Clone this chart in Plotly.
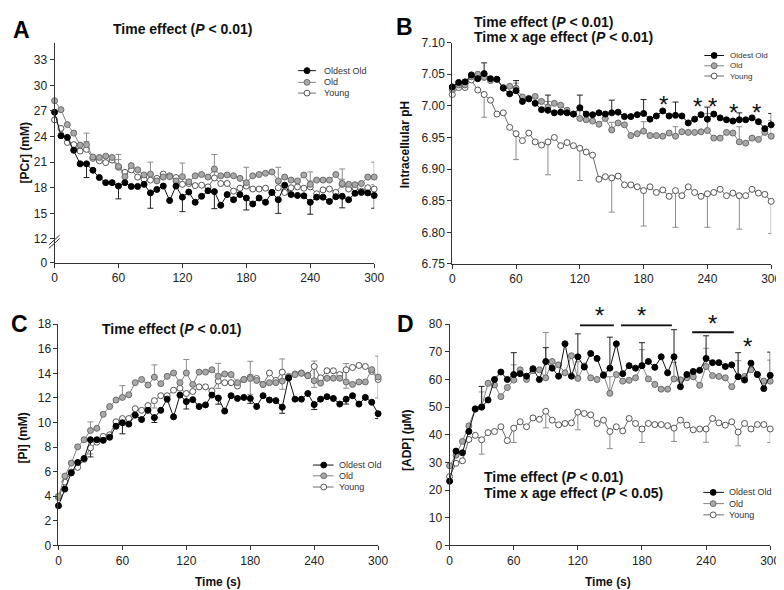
import plotly.graph_objects as go

W, H = 784, 590
FONT = "Liberation Sans, Arial, sans-serif"

time_s = list(range(0, 301, 6))
err_idx = slice(5, None, 5)          # error bars every 30 s
x_ticks = [0, 60, 120, 180, 240, 300]
series_names = ["Oldest Old", "Old", "Young"]

# ---------------- Panel A: [PCr] (mM) ----------------
pcr_oldest = [26.85, 24.1, 23.9, 22.4, 20.8, 20.8, 20.05, 19.2, 18.6, 18.6,
              18.2, 18.6, 18.15, 18.15, 18.4, 17.4, 17.8, 18.2, 16.5, 18.2,
              16.9, 17.5, 16.3, 17.0, 17.65, 17.55, 15.95, 17.2, 16.6, 17.2,
              16.8, 16.1, 16.8, 16.3, 17.45, 16.6, 18.3, 17.2, 17.1, 17.05,
              16.3, 16.9, 16.9, 16.4, 16.95, 17.0, 16.6, 17.35, 17.45, 17.4, 17.1]
pcr_old = [28.2, 27.15, 25.4, 24.4, 23.0, 23.05, 21.6, 21.55, 21.7, 21.55,
           20.5, 19.3, 20.6, 20.1, 19.5, 19.6, 18.8, 19.25, 19.3, 18.8,
           19.3, 18.7, 19.4, 19.55, 19.25, 20.2, 19.4, 19.5, 19.4, 19.1,
           18.6, 19.4, 19.55, 19.7, 19.85, 18.8, 19.25, 18.9, 18.8, 19.5,
           18.4, 18.9, 18.9, 18.9, 19.55, 18.5, 18.4, 18.35, 18.5, 19.25, 19.25]
pcr_young = [25.95, 24.95, 23.3, 23.05, 22.3, 22.5, 21.45, 21.15, 20.95, 21.25,
             20.4, 19.8, 20.1, 19.25, 19.0, 18.9, 19.1, 19.6, 19.4, 19.2,
             18.4, 18.5, 18.25, 18.3, 18.1, 19.15, 18.5, 18.5, 17.6, 17.95,
             18.2, 17.85, 17.85, 17.95, 17.45, 18.0, 17.45, 18.0, 18.1, 17.95,
             18.1, 17.3, 17.75, 17.85, 17.45, 18.4, 17.85, 18.0, 17.6, 18.0, 17.85]
pcr_err_oldest_minus = [1.6, 1.5, 1.8, 1.7, 2.0, 1.4, 1.6, 1.4, 1.35, 1.5]
pcr_err_old_plus = [1.35, 1.4, 1.4, 1.6, 1.7, 1.8, 1.6, 1.45, 1.7, 1.75]
pcr_err_young_plus = [0.9, 0.9, 0.6, 0.7, 0.7, 0.6, 0.6, 0.7, 0.6, 0.5]
pcr_tickvals = [9.19, 12, 15, 18, 21, 24, 27, 30, 33]
pcr_ticktext = ["0", "12", "15", "18", "21", "24", "27", "30", "33"]

# ---------------- Panel B: intracellular pH ----------------
ph_oldest = [7.030, 7.037, 7.038, 7.049, 7.043, 7.051, 7.043, 7.042, 7.028, 7.019,
             7.024, 7.007, 7.011, 7.004, 6.994, 6.993, 6.989, 6.990, 6.989, 6.987,
             6.997, 6.987, 6.986, 6.989, 6.987, 6.989, 6.990, 6.983, 6.983, 6.986,
             6.988, 6.979, 6.984, 6.992, 6.984, 6.985, 6.984, 6.973, 6.979, 6.986,
             6.979, 6.987, 6.981, 6.978, 6.976, 6.978, 6.978, 6.981, 6.975, 6.964, 6.970]
ph_old = [7.026, 7.033, 7.033, 7.046, 7.050, 7.045, 7.040, 7.042, 7.029, 7.031,
          7.028, 7.014, 7.012, 7.015, 7.007, 6.998, 7.004, 7.001, 6.993, 6.987,
          6.980, 6.978, 6.976, 6.971, 6.980, 6.962, 6.973, 6.970, 6.953, 6.956,
          6.960, 6.953, 6.953, 6.952, 6.957, 6.952, 6.959, 6.958, 6.958, 6.959,
          6.961, 6.949, 6.949, 6.958, 6.957, 6.943, 6.941, 6.949, 6.947, 6.958, 6.952]
ph_young = [7.018, 7.029, 7.029, 7.041, 7.025, 7.018, 7.009, 6.987, 6.989, 6.966,
            6.956, 6.945, 6.957, 6.943, 6.938, 6.943, 6.950, 6.937, 6.942, 6.937,
            6.933, 6.927, 6.922, 6.884, 6.888, 6.886, 6.889, 6.875, 6.875, 6.872,
            6.866, 6.872, 6.863, 6.867, 6.857, 6.866, 6.858, 6.872, 6.863, 6.857,
            6.861, 6.863, 6.868, 6.858, 6.862, 6.858, 6.858, 6.868, 6.862, 6.860, 6.849]
ph_err_oldest_plus = [0.017, 0.016, 0.024, 0.020, 0.020, 0.022, 0.021, 0.019, 0.011, 0.018]
ph_err_old_plus = [0.005, 0.008, 0.009, 0.012, 0.012, 0.015, 0.015, 0.027, 0.024, 0.025]
ph_err_young_minus = [0.036, 0.041, 0.052, 0.051, 0.054, 0.056, 0.058, 0.053, 0.053, 0.051]
ph_tickvals = [6.75, 6.80, 6.85, 6.90, 6.95, 7.00, 7.05, 7.10]
ph_ticktext = ["6.75", "6.80", "6.85", "6.90", "6.95", "7.00", "7.05", "7.10"]
ph_star_t = [199, 231, 245, 265, 286]
ph_star_y = [7.011, 7.009, 7.009, 6.999, 6.999]

# ---------------- Panel C: [Pi] (mM) ----------------
pi_oldest = [3.23, 4.58, 5.9, 6.75, 7.07, 8.6, 8.6, 8.55, 8.8, 9.7,
             9.98, 9.87, 10.6, 10.24, 10.99, 10.4, 10.99, 11.9, 10.46, 12.23,
             11.7, 11.86, 11.3, 11.43, 12.23, 11.99, 10.93, 12.18, 11.96, 12.04,
             11.96, 11.3, 12.18, 11.83, 11.78, 11.25, 13.63, 11.9, 11.9, 12.36,
             11.46, 11.9, 12.1, 11.96, 11.5, 11.9, 12.18, 11.5, 12.04, 11.65, 10.72]
pi_old = [4.0, 5.64, 6.7, 8.02, 8.6, 9.35, 9.53, 10.67, 11.3, 11.83,
          12.04, 12.26, 13.24, 13.5, 13.05, 13.69, 13.16, 13.76, 14.03, 13.24,
          14.03, 13.1, 14.1, 14.1, 14.29, 13.76, 13.95, 13.9, 13.24, 13.5,
          13.58, 13.42, 13.1, 13.24, 13.24, 13.37, 13.76, 13.9, 14.0, 13.8,
          13.4, 13.2, 13.6, 13.6, 13.6, 13.3, 13.1, 13.3, 13.3, 14.3, 13.7]
pi_young = [3.9, 5.16, 5.96, 6.35, 7.0, 7.94, 8.4, 8.87, 9.0, 10.06,
            10.32, 10.32, 11.12, 10.99, 11.38, 11.78, 12.18, 12.18, 12.63, 12.79,
            12.36, 12.52, 12.9, 12.9, 12.57, 13.37, 13.24, 13.24, 12.97, 13.5,
            13.69, 13.58, 13.1, 14.03, 13.42, 14.1, 13.63, 13.95, 14.03, 13.84,
            14.56, 13.63, 14.21, 14.21, 13.9, 14.29, 14.48, 14.64, 14.56, 14.16, 13.5]
pi_err_oldest_minus = [1.4, 0.9, 0.4, 0.6, 0.5, 0.4, 0.5, 0.4, 0.4, 0.4]
pi_err_old_plus = [0.7, 0.96, 1.0, 1.1, 1.05, 1.4, 1.8, 1.6, 1.5, 1.7]
pi_err_young_minus = [0.5, 0.5, 0.6, 0.5, 0.6, 1.4, 1.4, 1.7, 1.5, 1.5]
pi_tickvals = [0, 2, 4, 6, 8, 10, 12, 14, 16, 18]

# ---------------- Panel D: [ADP] (uM) ----------------
adp_oldest = [23.2, 34.1, 33.5, 41.2, 49.4, 50.0, 52.6, 60.0, 62.7, 60.0,
              61.8, 62.1, 61.2, 63.9, 60.0, 66.5, 64.1, 61.2, 72.9, 61.2,
              68.2, 64.5, 69.4, 67.6, 61.5, 64.1, 72.9, 62.1, 65.0, 64.1,
              65.0, 66.5, 64.4, 68.2, 62.4, 68.2, 57.4, 61.8, 62.9, 63.3,
              67.6, 66.1, 66.1, 64.7, 65.3, 61.0, 59.8, 65.9, 61.8, 56.7, 61.5]
adp_old = [28.8, 32.6, 37.6, 43.2, 49.2, 50.2, 58.6, 58.0, 53.8, 57.1,
           59.8, 63.5, 60.0, 63.2, 63.5, 60.6, 66.5, 65.3, 62.4, 68.6,
           60.4, 64.9, 60.6, 60.0, 61.8, 55.0, 61.8, 59.4, 59.7, 60.6,
           65.0, 60.2, 58.2, 56.5, 56.5, 60.2, 59.9, 60.6, 61.0, 57.9,
           64.7, 61.4, 61.1, 60.6, 57.4, 61.0, 61.1, 63.5, 61.8, 59.4, 59.4]
adp_young = [24.9, 29.7, 30.6, 38.3, 39.8, 38.2, 40.8, 41.2, 42.9, 37.9,
             42.4, 44.7, 42.9, 46.1, 45.6, 48.5, 45.3, 43.6, 44.1, 44.3,
             48.2, 47.7, 47.2, 44.1, 45.3, 41.2, 42.9, 41.4, 45.9, 44.1,
             42.1, 44.1, 43.7, 43.7, 43.3, 42.4, 45.3, 43.5, 41.8, 42.1,
             42.1, 45.9, 44.3, 43.5, 44.7, 41.0, 44.1, 42.1, 43.7, 43.7, 42.1]
adp_err_oldest_plus = [7.5, 7.9, 5.0, 8.3, 11.2, 8.3, 9.8, 8.2, 8.7, 8.4]
adp_err_old_plus = [5.3, 5.5, 16.4, 6.0, 6.0, 5.8, 6.0, 6.6, 5.8, 7.6]
adp_err_young_minus = [5.2, 5.2, 6.0, 6.4, 6.2, 4.9, 4.8, 4.8, 5.0, 4.9]
adp_tickvals = [0, 10, 20, 30, 40, 50, 60, 70, 80]
adp_sig_bars = [(122, 153.7, 79.6), (160.4, 208, 79.6), (227, 266, 77.1)]
adp_star_t = [140.5, 179.4, 246, 279]
adp_star_y = [85.2, 85.2, 82.4, 74.1]

STY = {
    "Oldest Old": dict(line="#111111", fill="#000000", edge="#000000", err="#222222"),
    "Old": dict(line="#808080", fill="#a8a8a8", edge="#6b6b6b", err="#8c8c8c"),
    "Young": dict(line="#6b6b6b", fill="#ffffff", edge="#555555", err="#8c8c8c"),
}


def px(x):
    return x / W


def py(y):
    return 1 - y / H


fig = go.Figure()


def add_panel(k, data, errs):
    xa = "x" if k == 1 else f"x{k}"
    ya = "y" if k == 1 else f"y{k}"
    n_err = len(time_s[err_idx])
    for name in ["Young", "Old", "Oldest Old"]:
        plus, minus = errs.get(name, (None, None))
        if plus is None and minus is None:
            continue
        plus = plus if plus is not None else [0] * n_err
        minus = minus if minus is not None else [0] * n_err
        fig.add_trace(go.Scatter(
            x=time_s[err_idx], y=data[name][err_idx], xaxis=xa, yaxis=ya,
            mode="markers", marker=dict(size=1, color="rgba(0,0,0,0)"),
            error_y=dict(type="data", symmetric=False, array=plus, arrayminus=minus,
                         color=STY[name]["err"], thickness=1, width=3),
            showlegend=False, hoverinfo="skip"))
    for name in ["Young", "Old", "Oldest Old"]:
        s = STY[name]
        fig.add_trace(go.Scatter(
            x=time_s, y=data[name], xaxis=xa, yaxis=ya, mode="lines+markers",
            name=name, showlegend=False, cliponaxis=False,
            line=dict(color=s["line"], width=1),
            marker=dict(size=6, color=s["fill"], line=dict(color=s["edge"], width=1))))


add_panel(1, {"Oldest Old": pcr_oldest, "Old": pcr_old, "Young": pcr_young},
          {"Oldest Old": (None, pcr_err_oldest_minus), "Old": (pcr_err_old_plus, None),
           "Young": (pcr_err_young_plus, None)})
add_panel(2, {"Oldest Old": ph_oldest, "Old": ph_old, "Young": ph_young},
          {"Oldest Old": (ph_err_oldest_plus, None), "Old": (ph_err_old_plus, None),
           "Young": (None, ph_err_young_minus)})
add_panel(3, {"Oldest Old": pi_oldest, "Old": pi_old, "Young": pi_young},
          {"Oldest Old": (None, pi_err_oldest_minus), "Old": (pi_err_old_plus, None),
           "Young": (None, pi_err_young_minus)})
add_panel(4, {"Oldest Old": adp_oldest, "Old": adp_old, "Young": adp_young},
          {"Oldest Old": (adp_err_oldest_plus, None), "Old": (adp_err_old_plus, None),
           "Young": (None, adp_err_young_minus)})


def ax(**kw):
    d = dict(showline=True, linecolor="#333333", linewidth=1, ticks="outside", ticklen=4,
             tickcolor="#333333", tickwidth=1, showgrid=False, zeroline=False,
             tickfont=dict(size=12, color="#222222", family=FONT), fixedrange=True)
    d.update(kw)
    return d


# panel pixel boxes: (x_left, x_right, y_top, y_bottom)
boxA = (44.3, 369.3, 28.3, 254.0)
boxB = (448.7, 773.0, 28.3, 255.0)
boxC = (48.3, 373.3, 316.7, 543.3)
boxD = (446.0, 772.0, 316.7, 543.3)


def dom(b):
    return [px(b[0]), px(b[1])], [py(b[3]), py(b[2])]


xdA, ydA = dom(boxA)
xdB, ydB = dom(boxB)
xdC, ydC = dom(boxC)
xdD, ydD = dom(boxD)

adp_range = [0, 80]

fig.update_layout(
    width=W, height=H, autosize=False, margin=dict(l=0, r=0, t=0, b=0),
    paper_bgcolor="white", plot_bgcolor="white", showlegend=False,
    font=dict(family=FONT, color="#222222"),
    xaxis=ax(domain=xdA, anchor="y", range=[0, 300], tickvals=x_ticks),
    yaxis=ax(domain=ydA, anchor="x", range=[9.19, 35], tickvals=pcr_tickvals, ticktext=pcr_ticktext),
    xaxis2=ax(domain=xdB, anchor="y2", range=[0, 300], tickvals=x_ticks),
    yaxis2=ax(domain=ydB, anchor="x2", range=[6.75, 7.10], tickvals=ph_tickvals, ticktext=ph_ticktext),
    xaxis3=ax(domain=xdC, anchor="y3", range=[0, 300], tickvals=x_ticks),
    yaxis3=ax(domain=ydC, anchor="x3", range=[0, 18], tickvals=pi_tickvals),
    xaxis4=ax(domain=xdD, anchor="y4", range=[0, 300], tickvals=x_ticks),
    yaxis4=ax(domain=ydD, anchor="x4", range=adp_range, tickvals=adp_tickvals),
)

ann = []
shapes = []


def text(x, y, s, size, bold=False, xanchor="center", yanchor="middle", angle=0, color="#111111"):
    ann.append(dict(x=px(x), y=py(y), xref="paper", yref="paper", text=(f"<b>{s}</b>" if bold else s),
                    showarrow=False, xanchor=xanchor, yanchor=yanchor, textangle=angle,
                    font=dict(size=size, family=FONT, color=color)))


# panel letters
text(11, 15, "A", 23, bold=True, color="#000000")
text(400, 12, "B", 23, bold=True, color="#000000")
text(9, 316, "C", 23, bold=True, color="#000000")
text(401, 316, "D", 23, bold=True, color="#000000")

# titles
text(174, 14, "Time effect (<i>P</i> &lt; 0.01)", 14, bold=True)
text(469, 7, "Time effect (<i>P</i> &lt; 0.01)", 14, bold=True, xanchor="left")
text(469, 22.5, "Time x age effect (<i>P</i> &lt; 0.01)", 14, bold=True, xanchor="left")
text(163, 321.5, "Time effect (<i>P</i> &lt; 0.01)", 14, bold=True)
text(479, 473.5, "Time effect (<i>P</i> &lt; 0.01)", 14, bold=True, xanchor="left")
text(479, 490, "Time x age effect (<i>P</i> &lt; 0.05)", 14, bold=True, xanchor="left")

# axis titles
text(14, 141, "[PCr] (mM)", 12, bold=True, angle=-90)
text(400, 133, "Intracellular pH", 12, bold=True, angle=-90)
text(12, 433, "[Pi] (mM)", 12, bold=True, angle=-90)
text(402, 435, "[ADP] (\u00b5M)", 12, bold=True, angle=-90)
text(210, 581, "Time (s)", 12, bold=True)
text(607, 581, "Time (s)", 12, bold=True)

# legends (drawn manually to match compact spacing)
legends = [
    dict(x0=292, x1=310, xm=301, xt=316, ys=[57, 69, 80], size=9),
    dict(x0=705, x1=725, xm=715, xt=729, ys=[41.5, 52, 62.5], size=8),
    dict(x0=307, x1=328, xm=318, xt=332, ys=[461, 472, 483.5], size=9),
    dict(x0=704, x1=725, xm=714, xt=728, ys=[489, 500.5, 512], size=9),
]
r = 3
for lg in legends:
    for name, yy in zip(series_names, lg["ys"]):
        s = STY[name]
        shapes.append(dict(type="line", xref="paper", yref="paper", x0=px(lg["x0"]), x1=px(lg["x1"]),
                           y0=py(yy), y1=py(yy), line=dict(color=s["line"], width=1)))
        shapes.append(dict(type="circle", xref="paper", yref="paper",
                           x0=px(lg["xm"] - r), x1=px(lg["xm"] + r), y0=py(yy + r), y1=py(yy - r),
                           fillcolor=s["fill"], line=dict(color=s["edge"], width=1)))
        text(lg["xt"], yy, name, lg["size"], xanchor="left", color="#333333")

# axis break marks on panel A
for dy in (0, 3.5):
    shapes.append(dict(type="line", xref="paper", yref="paper", x0=px(38.5), x1=px(49.5),
                       y0=py(239 - dy), y1=py(229 - dy), line=dict(color="#333333", width=1)))

STAR_SIZE = 24
STAR_SHIFT = -6  # glyph centre sits above the text-box centre

# significance stars, panel B
for t, v in zip(ph_star_t, ph_star_y):
    ann.append(dict(x=t, y=v, xref="x2", yref="y2", text="*", showarrow=False, yshift=STAR_SHIFT,
                    font=dict(size=STAR_SIZE, family=FONT, color="#111111")))

# significance stars, panel D (some sit above the axis top: anchor at top, shift in px)
d_px_per_unit = (boxD[3] - boxD[2]) / (adp_range[1] - adp_range[0])
for t, v in zip(adp_star_t, adp_star_y):
    v_in = min(v, adp_range[1] - 0.01)
    ann.append(dict(x=t, y=v_in, xref="x4", yref="y4", text="*", showarrow=False,
                    yshift=STAR_SHIFT + (v - v_in) * d_px_per_unit,
                    font=dict(size=STAR_SIZE, family=FONT, color="#111111")))
for (a, b, v) in adp_sig_bars:
    shapes.append(dict(type="line", xref="x4", yref="y4", x0=a, x1=b, y0=v, y1=v,
                       line=dict(color="#111111", width=2)))

fig.update_layout(annotations=ann, shapes=shapes)
fig.write_html("out.html")
